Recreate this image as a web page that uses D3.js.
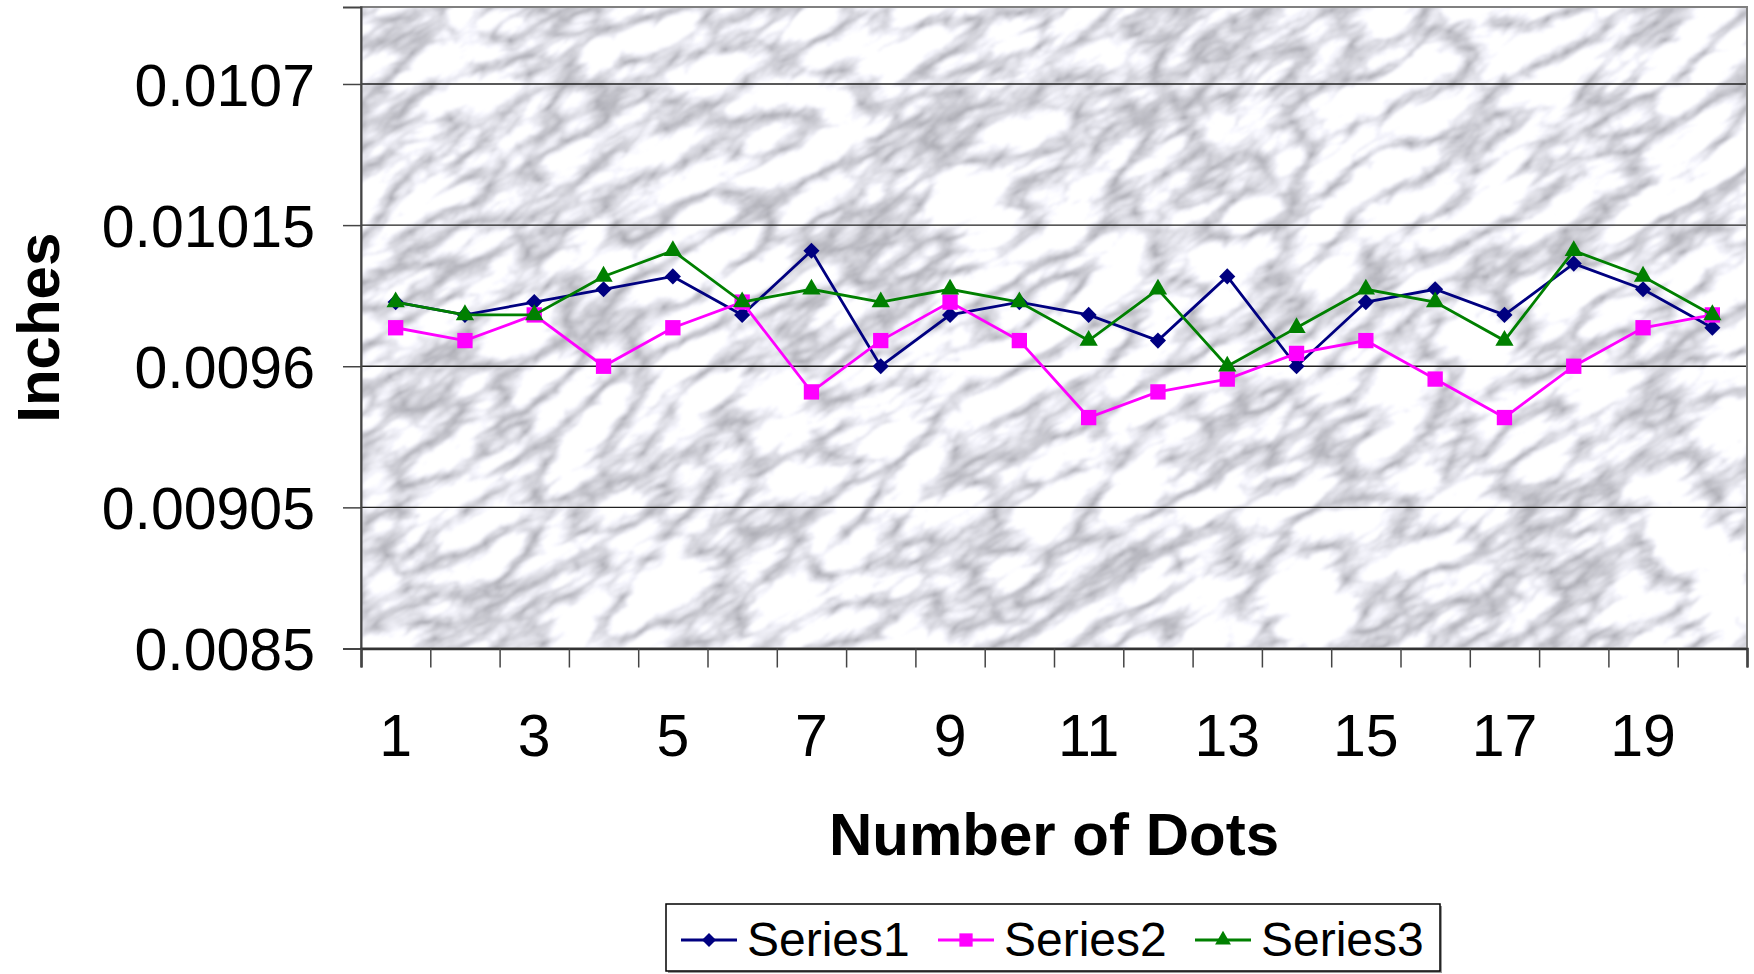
<!DOCTYPE html>
<html>
<head>
<meta charset="utf-8">
<script src="https://cdn.jsdelivr.net/npm/d3@7"></script>
<style>
  body { margin: 0; background: #fff; }
  text { font-family: "Liberation Sans", Arial, sans-serif; }
</style>
</head>
<body>
<div id="app"></div>
<script>
// data
const categories = [1, 2, 3, 4, 5, 6, 7, 8, 9, 10, 11, 12, 13, 14, 15, 16, 17, 18, 19, 20]
const xTickLabels = [1, 3, 5, 7, 9, 11, 13, 15, 17, 19]
const yTicks = [0.0085, 0.00905, 0.0096, 0.01015, 0.0107]
const yTickLabels = ['0.0085', '0.00905', '0.0096', '0.01015', '0.0107']
const seriesNames = ['Series1', 'Series2', 'Series3']
const series1 = [0.00985, 0.0098, 0.00985, 0.0099, 0.00995, 0.0098, 0.01005, 0.0096, 0.0098, 0.00985,
                 0.0098, 0.0097, 0.00995, 0.0096, 0.00985, 0.0099, 0.0098, 0.01, 0.0099, 0.00975]
const series2 = [0.00975, 0.0097, 0.0098, 0.0096, 0.00975, 0.00985, 0.0095, 0.0097, 0.00985, 0.0097,
                 0.0094, 0.0095, 0.00955, 0.00965, 0.0097, 0.00955, 0.0094, 0.0096, 0.00975, 0.0098]
const series3 = [0.00985, 0.0098, 0.0098, 0.00995, 0.01005, 0.00985, 0.0099, 0.00985, 0.0099, 0.00985,
                 0.0097, 0.0099, 0.0096, 0.00975, 0.0099, 0.00985, 0.0097, 0.01005, 0.00995, 0.0098]

const W = 1754, H = 974
const plot = { left: 361, right: 1747, top: 7, bottom: 648.5 }

const styles = [
  { color: '#000080', symbol: d3.symbolSquare, size: 130, rotate: 45 },
  { color: '#ff00ff', symbol: d3.symbolSquare, size: 235, rotate: 0 },
  { color: '#008000', symbol: d3.symbolTriangle, size: 145, rotate: 0 }
]
const allSeries = [series1, series2, series3]

const svg = d3.select('#app').append('svg')
  .attr('width', W).attr('height', H)

// marble texture for plot background
const defs = svg.append('defs')
const filt = defs.append('filter').attr('id', 'marble')
  .attr('x', 0).attr('y', 0).attr('width', '100%').attr('height', '100%')
  .attr('color-interpolation-filters', 'sRGB')
filt.append('feTurbulence').attr('type', 'turbulence')
  .attr('baseFrequency', '0.011 0.026').attr('numOctaves', 4).attr('seed', 11)
filt.append('feColorMatrix').attr('type', 'matrix')
  .attr('values', '0.85 0 0 0 0.66  0.85 0 0 0 0.66  0.85 0 0 0 0.69  0 0 0 0 1')
filt.append('feGaussianBlur').attr('stdDeviation', 1.2)
defs.append('clipPath').attr('id', 'plotclip').append('rect')
  .attr('x', plot.left).attr('y', plot.top)
  .attr('width', plot.right - plot.left).attr('height', plot.bottom - plot.top)

svg.append('g').attr('clip-path', 'url(#plotclip)')
  .append('rect')
  .attr('x', -600).attr('y', -900).attr('width', 3000).attr('height', 2400)
  .attr('transform', `rotate(-30 ${(plot.left + plot.right) / 2} ${(plot.top + plot.bottom) / 2})`)
  .attr('filter', 'url(#marble)')

const x = d3.scaleBand().domain(categories).range([plot.left, plot.right])
const xEdge = d3.scaleLinear().domain([0, categories.length]).range([plot.left, plot.right])
const y = d3.scaleLinear().domain([0.0085, 0.011]).range([plot.bottom, plot.top])

// gridlines
svg.append('g').selectAll('line').data(yTicks.slice(1)).join('line')
  .attr('x1', plot.left).attr('x2', plot.right)
  .attr('y1', d => y(d)).attr('y2', d => y(d))
  .attr('stroke', '#222').attr('stroke-width', 1.3)

// plot border
svg.append('rect')
  .attr('x', plot.left).attr('y', plot.top)
  .attr('width', plot.right - plot.left).attr('height', plot.bottom - plot.top)
  .attr('fill', 'none').attr('stroke', '#808080').attr('stroke-width', 2)

// y axis
const yAxis = svg.append('g').attr('transform', `translate(${plot.left},0)`)
  .call(d3.axisLeft(y).tickValues(yTicks).tickSize(18).tickPadding(28)
    .tickFormat((d, i) => yTickLabels[i]))
yAxis.select('.domain').attr('stroke', '#444').attr('stroke-width', 2)
yAxis.selectAll('.tick line').attr('stroke', '#444').attr('stroke-width', 1.5)
yAxis.selectAll('text').attr('font-size', 59).attr('fill', '#000')
  .attr('font-family', '"Liberation Sans", Arial, sans-serif').attr('dy', '0.36em')

// x axis (ticks on category edges)
const xAxis = svg.append('g').attr('transform', `translate(0,${plot.bottom})`)
  .call(d3.axisBottom(xEdge).ticks(categories.length).tickSize(19).tickFormat(''))
xAxis.select('.domain').attr('stroke', '#333').attr('stroke-width', 2.5)
xAxis.selectAll('.tick line').attr('stroke', '#444').attr('stroke-width', 1.5)

svg.append('g').selectAll('text').data(xTickLabels).join('text')
  .attr('x', d => x(d) + x.bandwidth() / 2)
  .attr('y', 756)
  .attr('text-anchor', 'middle')
  .attr('font-size', 59)
  .text(d => d)

// axis titles
svg.append('text')
  .attr('x', (plot.left + plot.right) / 2).attr('y', 855)
  .attr('text-anchor', 'middle').attr('font-size', 60).attr('font-weight', 'bold')
  .text('Number of Dots')
svg.append('text')
  .attr('transform', `translate(59,${(plot.top + plot.bottom) / 2}) rotate(-90)`)
  .attr('text-anchor', 'middle').attr('font-size', 60).attr('font-weight', 'bold')
  .text('Inches')

// series
const line = d3.line()
  .x((d, i) => x(categories[i]) + x.bandwidth() / 2)
  .y(d => y(d))

allSeries.forEach((vals, si) => {
  const st = styles[si]
  const g = svg.append('g')
  g.append('path').datum(vals)
    .attr('d', line)
    .attr('fill', 'none').attr('stroke', st.color).attr('stroke-width', 2.8)
  g.selectAll('path.mark').data(vals).join('path').attr('class', 'mark')
    .attr('d', d3.symbol(st.symbol, st.size))
    .attr('transform', (d, i) =>
      `translate(${x(categories[i]) + x.bandwidth() / 2},${y(d)}) rotate(${st.rotate})`)
    .attr('fill', st.color)
})

// legend
const legend = svg.append('g')
legend.append('rect').attr('x', 668).attr('y', 906).attr('width', 774).attr('height', 67)
  .attr('fill', '#999')
legend.append('rect').attr('x', 666).attr('y', 904).attr('width', 774).attr('height', 67)
  .attr('fill', '#fff').attr('stroke', '#000').attr('stroke-width', 1.5)

const item = legend.selectAll('g.item').data(seriesNames).join('g').attr('class', 'item')
  .attr('transform', (d, i) => `translate(${681 + i * 257},940)`)
item.append('line').attr('x1', 0).attr('x2', 56).attr('y1', 0).attr('y2', 0)
  .attr('stroke', (d, i) => styles[i].color).attr('stroke-width', 2.8)
item.append('path')
  .attr('d', (d, i) => d3.symbol(styles[i].symbol, styles[i].size * 0.75)())
  .attr('transform', (d, i) => `translate(28,0) rotate(${styles[i].rotate})`)
  .attr('fill', (d, i) => styles[i].color)
item.append('text').attr('x', 66).attr('y', 16)
  .attr('font-size', 48)
  .text(d => d)
</script>
</body>
</html>
